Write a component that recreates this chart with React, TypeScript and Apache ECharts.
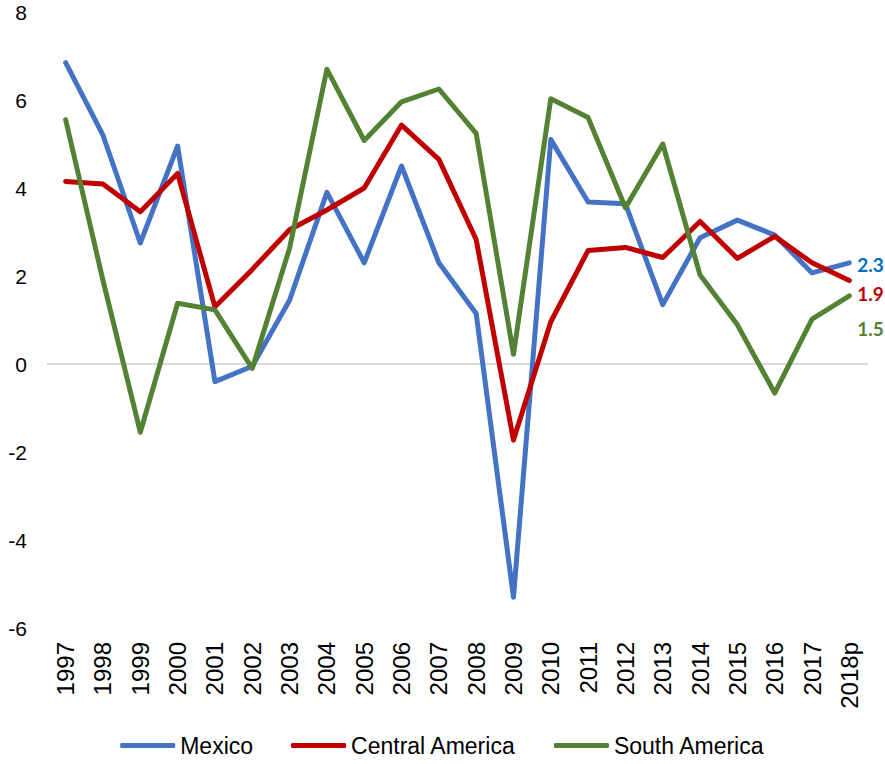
import React, { useEffect, useRef } from "react";
import * as echarts from "echarts";

const years = ["1997","1998","1999","2000","2001","2002","2003","2004","2005","2006","2007","2008","2009","2010","2011","2012","2013","2014","2015","2016","2017","2018p"];
const mexico = [6.85, 5.2, 2.75, 4.95, -0.4, -0.05, 1.45, 3.9, 2.3, 4.5, 2.3, 1.15, -5.3, 5.1, 3.68, 3.64, 1.35, 2.87, 3.27, 2.93, 2.07, 2.3];
const centralAmerica = [4.15, 4.09, 3.46, 4.33, 1.3, 2.15, 3.05, 3.5, 4.0, 5.43, 4.65, 2.83, -1.73, 0.96, 2.58, 2.65, 2.42, 3.24, 2.4, 2.9, 2.3, 1.9];
const southAmerica = [5.55, 1.9, -1.55, 1.38, 1.23, -0.1, 2.63, 6.7, 5.08, 5.96, 6.25, 5.24, 0.22, 6.03, 5.6, 3.55, 5.0, 2.02, 0.89, -0.66, 1.02, 1.55];
const endLabels = ["2.3", "1.9", "1.5"];
const seriesNames = ["Mexico", "Central America", "South America"];
const lineColors = ["#4472C4", "#C00000", "#548235"];
const labelColors = ["#0070C0", "#C00000", "#548235"];
const labelOffsets = [[1, 2], [1, 13], [1, 33]];

export default function App() {
  const ref = useRef<HTMLDivElement>(null);
  useEffect(() => {
    document.body.style.margin = "0";
    const chart = echarts.init(ref.current!, null, { renderer: "svg" });
    const allData = [mexico, centralAmerica, southAmerica];
    const series: any[] = allData.map((arr, si) => ({
      name: seriesNames[si],
      type: "line",
      symbol: "none",
      z: 3 + si,
      lineStyle: { width: 5, color: lineColors[si], cap: "round", join: "round" },
      itemStyle: { color: lineColors[si] },
      endLabel: {
        show: true,
        formatter: endLabels[si],
        offset: labelOffsets[si],
        distance: 7,
        color: labelColors[si],
        fontWeight: "bold",
        fontSize: 19,
        fontFamily: "Lato",
      },
      data: arr,
    }));
    series[0].markLine = {
      silent: true,
      symbol: "none",
      label: { show: false },
      lineStyle: { color: "#d9d9d9", width: 2, type: "solid" },
      data: [{ yAxis: 0 }],
      z: 1,
    };
    chart.setOption({
      animation: false,
      grid: { left: 47, right: 17, top: 12, bottom: 136, containLabel: false },
      legend: {
        bottom: 2,
        left: "center",
        itemWidth: 55,
        itemHeight: 5,
        itemGap: 38,
        icon: "roundRect",
        data: seriesNames,
        textStyle: { fontSize: 23, fontFamily: "Liberation Sans", color: "#000" },
      },
      xAxis: {
        type: "category",
        data: years,
        boundaryGap: true,
        axisLine: { show: false },
        axisTick: { show: false },
        axisLabel: {
          rotate: 90,
          margin: 14,
          fontSize: 24,
          fontFamily: "Liberation Sans",
          color: "#000",
          interval: 0,
        },
      },
      yAxis: {
        type: "value",
        min: -6,
        max: 8,
        interval: 2,
        splitLine: { show: false },
        axisLine: { show: false },
        axisTick: { show: false },
        axisLabel: { fontSize: 21, fontFamily: "Liberation Sans", color: "#000", margin: 20 },
      },
      series,
    });
    return () => chart.dispose();
  }, []);
  return <div ref={ref} style={{ width: 885, height: 764 }} />;
}
